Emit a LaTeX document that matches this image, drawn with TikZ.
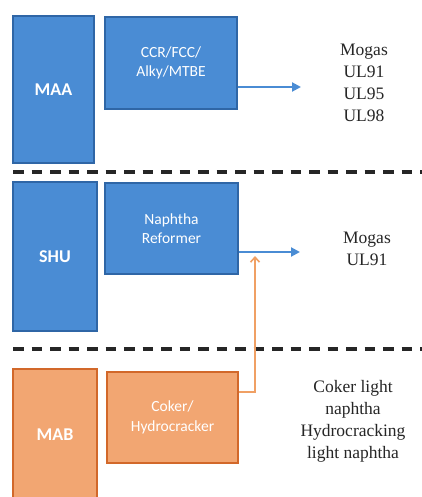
\documentclass[tikz,border=0pt]{standalone}
\usepackage{fontspec}
\setmainfont{Liberation Serif}
\newfontfamily\boxfont{Carlito}
\usetikzlibrary{arrows.meta}
\definecolor{unitblue}{HTML}{4A8CD4}
\definecolor{unitblueedge}{HTML}{2F66A6}
\definecolor{unitorange}{HTML}{F2A672}
\definecolor{unitorangeedge}{HTML}{D2682A}
\definecolor{feedorange}{HTML}{F0A064}
\tikzset{
  unitbox/.style={rectangle, line width=1.4pt, inner sep=2pt, align=center,
    text=white, font=\boxfont\fontsize{15.5}{19.5}\selectfont},
  bluebox/.style={unitbox, fill=unitblue, draw=unitblueedge},
  orangebox/.style={unitbox, fill=unitorange, draw=unitorangeedge},
  sitelabel/.style={font=\boxfont\bfseries\fontsize{18}{20}\selectfont},
  product/.style={align=center, text=black!85, font=\fontsize{17.5}{22}\selectfont},
  divider/.style={line width=3.6pt, black!85, dash pattern=on 10.5pt off 8pt},
  bluearrow/.style={line width=2pt, unitblue, -{Triangle[length=9pt, width=9pt]}},
  feedarrow/.style={line width=1.6pt, feedorange, -{Straight Barb[length=5pt, width=9pt]}},
}
\begin{document}
\begin{tikzpicture}[x=1pt, y=-1pt]
\useasboundingbox[fill=white] (0,0) rectangle (422,497);

% section dividers
\draw[divider] (13,172) -- (422,172);
\draw[divider] (13,349) -- (422,349);

% MAA section
\node[bluebox, sitelabel, minimum width=81, minimum height=147] (maa) at (53.5,89.5) {MAA};
\node[bluebox, minimum width=132, minimum height=92] (ccr) at (171,63) {CCR/FCC/\\Alky/MTBE};
\node[product] (mogasA) at (364,83) {Mogas\\UL91\\UL95\\UL98};
\coordinate (outA) at (301,87);
\draw[bluearrow] (ccr.east |- outA) -- (outA);

% SHU section
\node[bluebox, sitelabel, minimum width=84, minimum height=149] (shu) at (55,256.5) {SHU};
\node[bluebox, minimum width=133, minimum height=91] (reformer) at (171.5,228.5) {Naphtha\\Reformer};
\node[product] (mogasB) at (367,249) {Mogas\\UL91};
\coordinate (outB) at (300,252);
\draw[bluearrow] (reformer.east |- outB) -- (outB);

% MAB section
\node[orangebox, sitelabel, minimum width=84, minimum height=132] (mab) at (55,435) {MAB};
\node[orangebox, minimum width=131, minimum height=91] (coker) at (172.5,417.5) {Coker/\\Hydrocracker};
\node[product] (lightnaphtha) at (353,421.5) {Coker light\\naphtha\\Hydrocracking\\light naphtha};

% light naphtha routed up to the reformer product line
\coordinate (turn) at (255,392);
\coordinate (feedtip) at (255,256);
\draw[feedarrow] (coker.east |- turn) -- (turn) -- (feedtip);
\end{tikzpicture}
\end{document}
